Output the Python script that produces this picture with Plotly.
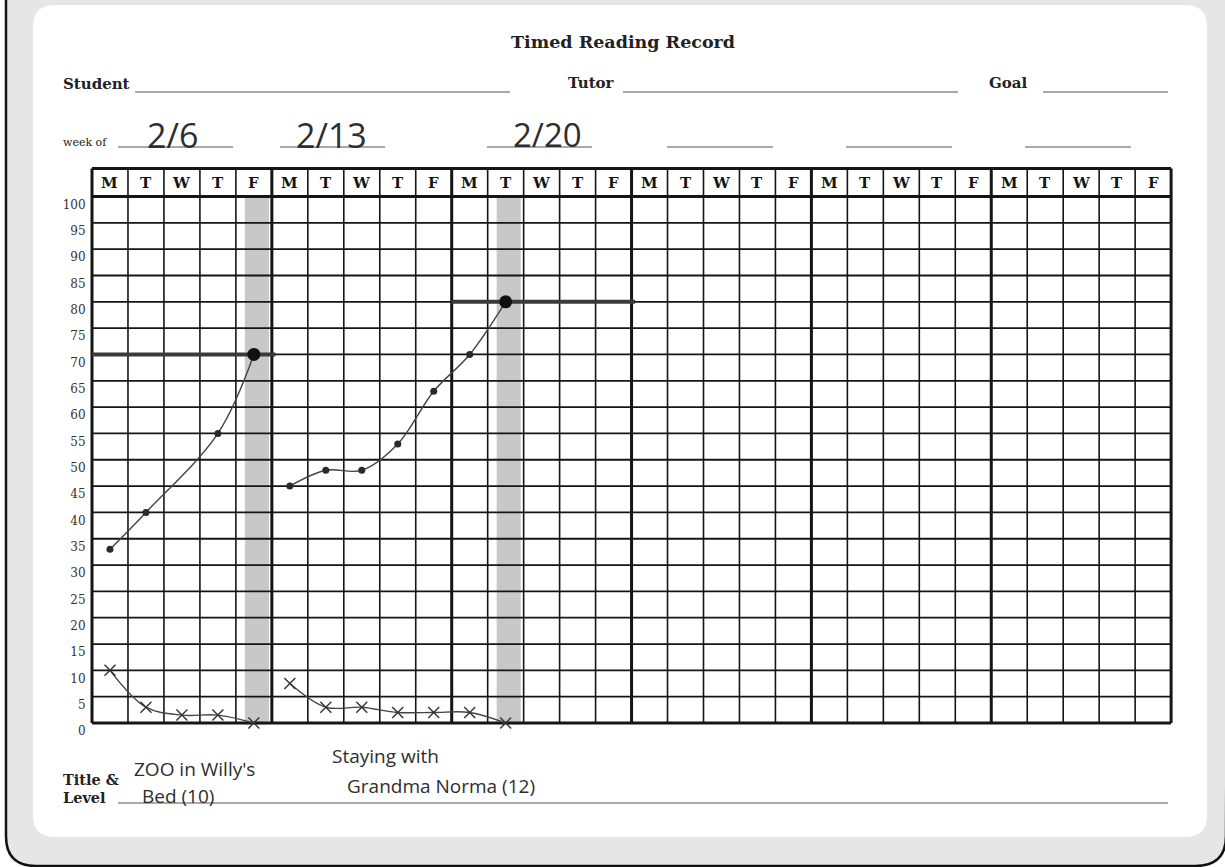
import plotly.graph_objects as go

# ---------------- data ----------------
days = ["M", "T", "W", "T", "F"] * 6
week_labels = ["2/6", "2/13", "2/20", "", "", ""]
y_ticks = list(range(0, 101, 5))

# correct words per minute (dots); two connected runs
correct_day = [0, 1, 3, 4, 5, 6, 7, 8, 9, 10, 11]
correct_val = [33, 40, 55, 70, 45, 48, 48, 53, 63, 70, 80]
correct_run = [1, 1, 1, 1, 2, 2, 2, 2, 2, 2, 2]

# errors (x marks)
error_day = [0, 1, 2, 3, 4, 5, 6, 7, 8, 9, 10, 11]
error_val = [10, 3, 1.5, 1.5, 0, 7.5, 3, 3, 2, 2, 2, 0]
error_run = [1, 1, 1, 1, 1, 2, 2, 2, 2, 2, 2, 2]

# goals: week index, goal value, day goal was reached
goal_week = [0, 2]
goal_val = [70, 80]
goal_day = [4, 11]

title_lines = [("ZOO in Willy's", "Bed (10)"), ("Staying with", "Grandma Norma (12)")]

# ---------------- layout helpers ----------------
W, H = 1225, 867
def px(x):
    return x / W
def py(y):
    return 1 - y / H

unit_x = 35.97
left_px = 92.0
unit_y = 5.265
zero_px = 723.0
xr = [-0.15, 30.15]
yr = [-0.6, 105.9]
xdom = [px(left_px + xr[0] * unit_x), px(left_px + xr[1] * unit_x)]
ydom = [py(zero_px - yr[0] * unit_y), py(zero_px - yr[1] * unit_y)]
HEAD_TOP = 105.3

SERIF = "DejaVu Serif"
HAND = "Open Sans"
INK = "#2e2e2e"

fig = go.Figure()

shapes = []
# page background frame
frame = (f"M {px(6)},{py(-5)} L {px(6)},{py(836)} Q {px(6)},{py(866)} {px(36)},{py(866)} "
         f"L {px(1195)},{py(866)} Q {px(1226)},{py(866)} {px(1226)},{py(836)} L {px(1230)},{py(-5)} Z")
shapes.append(dict(type="path", xref="paper", yref="paper", path=frame,
                   fillcolor="#e6e6e6", line=dict(color="#111", width=2.5), layer="below"))
r = 22
x0, x1, y0, y1 = 33, 1207, 5, 837
card = (f"M {px(x0 + r)},{py(y0)} L {px(x1 - r)},{py(y0)} Q {px(x1)},{py(y0)} {px(x1)},{py(y0 + r)} "
        f"L {px(x1)},{py(y1 - r)} Q {px(x1)},{py(y1)} {px(x1 - r)},{py(y1)} "
        f"L {px(x0 + r)},{py(y1)} Q {px(x0)},{py(y1)} {px(x0)},{py(y1 - r)} "
        f"L {px(x0)},{py(y0 + r)} Q {px(x0)},{py(y0)} {px(x0 + r)},{py(y0)} Z")
shapes.append(dict(type="path", xref="paper", yref="paper", path=card,
                   fillcolor="white", line=dict(width=0), layer="below"))

# highlighter bands on goal days
for d in goal_day:
    shapes.append(dict(type="rect", xref="x", yref="y", x0=d + 0.25, x1=d + 0.92, y0=-0.3, y1=99.7,
                       fillcolor="#c8c8c8", line=dict(width=0), layer="below"))

# grid
for v in y_ticks:
    shapes.append(dict(type="line", xref="x", yref="y", x0=0, x1=30, y0=v, y1=v,
                       line=dict(color="#151515", width=3 if v in (0, 100) else 1.8), layer="below"))
shapes.append(dict(type="line", xref="x", yref="y", x0=0, x1=30, y0=HEAD_TOP, y1=HEAD_TOP,
                   line=dict(color="#151515", width=3), layer="below"))
for i in range(31):
    w = 3 if i % 5 == 0 else 1.6
    shapes.append(dict(type="line", xref="x", yref="y", x0=i, x1=i, y0=0, y1=HEAD_TOP,
                       line=dict(color="#151515", width=w), layer="below"))

# form underlines
under = [(135, 510, 92), (623, 958, 92), (1043, 1168, 92), (118, 1168, 803),
         (118, 233, 147), (280, 385, 147), (487, 592, 147), (667, 773, 147), (846, 952, 147), (1025, 1131, 147)]
for a, b, y in under:
    shapes.append(dict(type="line", xref="paper", yref="paper", x0=px(a), x1=px(b), y0=py(y), y1=py(y),
                       line=dict(color="#555", width=1.2), layer="below"))

# goal lines
gx, gy = [], []
for wk, gv in zip(goal_week, goal_val):
    gx += [wk * 5, wk * 5 + 5.1, None]
    gy += [gv, gv, None]
fig.add_trace(go.Scatter(x=gx, y=gy, mode="lines", line=dict(color="#3a3a3a", width=4),
                         hoverinfo="skip", showlegend=False, cliponaxis=False))

# correct words runs
for run in sorted(set(correct_run)):
    xs = [d + 0.5 for d, rr in zip(correct_day, correct_run) if rr == run]
    ys = [v for v, rr in zip(correct_val, correct_run) if rr == run]
    fig.add_trace(go.Scatter(x=xs, y=ys, mode="lines+markers", line=dict(color="#444", width=1.4, shape="spline"),
                             marker=dict(color="#2a2a2a", size=7), showlegend=False, cliponaxis=False))
# goal reached dots
fig.add_trace(go.Scatter(x=[d + 0.5 for d in goal_day], y=goal_val, mode="markers",
                         marker=dict(color="#111", size=13), showlegend=False, cliponaxis=False))

# error runs
for run in sorted(set(error_run)):
    xs = [d + 0.5 for d, rr in zip(error_day, error_run) if rr == run]
    ys = [v for v, rr in zip(error_val, error_run) if rr == run]
    fig.add_trace(go.Scatter(x=xs, y=ys, mode="lines+markers", line=dict(color="#444", width=1.4, shape="spline"),
                             marker=dict(symbol="x-thin", size=11, line=dict(color="#333", width=1.4)),
                             showlegend=False, cliponaxis=False))

ann = []
# header day letters
for i, d in enumerate(days):
    ann.append(dict(x=i + 0.5, y=(100 + HEAD_TOP) / 2, xref="x", yref="y", text=f"<b>{d}</b>",
                    showarrow=False, font=dict(family=SERIF, size=15, color="#151515")))

def ptext(x, y, t, size, anchor="left", fam=SERIF, color="#222"):
    ann.append(dict(x=px(x), y=py(y), xref="paper", yref="paper", text=t, showarrow=False,
                    xanchor=anchor, yanchor="middle", font=dict(family=fam, size=size, color=color)))

ptext(623, 42, "<b>Timed Reading Record</b>", 17.5, "center")
ptext(61, 84, "<b>Student</b>", 15)
ptext(566, 83, "<b>Tutor</b>", 15)
ptext(987, 83, "<b>Goal</b>", 15)
ptext(61, 142, "week of", 11)
ptext(61, 779, "<b>Title &amp;</b>", 14.5)
ptext(61, 797, "<b>Level</b>", 14.5)

date_centers = [172, 332, 547, 720, 899, 1078]
date_sizes = [34, 34, 33, 33, 33, 33]
for c, t, s in zip(date_centers, week_labels, date_sizes):
    if t:
        ptext(c, 135, t, s, "center", HAND, INK)

hand_pos = [((132, 769), (140, 796)), ((330, 756), (345, 786))]
for (l1, l2), ((ax1, ay1), (ax2, ay2)) in zip(title_lines, hand_pos):
    ptext(ax1, ay1, l1, 19, "left", HAND, INK)
    ptext(ax2, ay2, l2, 19, "left", HAND, INK)

fig.update_layout(
    width=W, height=H, autosize=False,
    margin=dict(l=0, r=0, t=0, b=0, pad=0, autoexpand=False),
    paper_bgcolor="white", plot_bgcolor="rgba(0,0,0,0)",
    shapes=shapes, annotations=ann, showlegend=False,
    xaxis=dict(domain=xdom, range=xr, visible=False, fixedrange=True, automargin=False),
    yaxis=dict(domain=ydom, range=yr, tickvals=y_ticks, ticktext=[str(v) for v in y_ticks],
               showgrid=False, zeroline=False, showline=False, ticks="", ticklabelshift=8,
               automargin=False,
               tickfont=dict(family=SERIF, size=12, color="#333"), fixedrange=True),
)

fig.write_html("out.html", config={"displayModeBar": False},
               post_script="document.body.style.margin='0px';")
